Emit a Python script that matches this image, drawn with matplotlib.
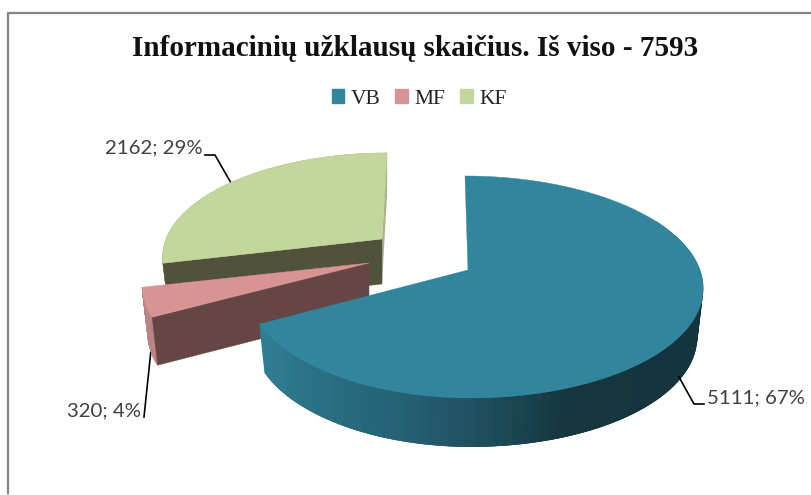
import numpy as np
from matplotlib import pyplot as plt
from matplotlib.patches import Patch

names = ["VB", "MF", "KF"]
values = [5111, 320, 2162]
percents = [67, 4, 29]
title = "Informacinių užklausų skaičius. Iš viso - 7593"

top_colors = ["#31859C", "#D79492", "#C3D69B"]
wall_colors = ["#2B6F83", "#664545", "#50533A"]
outer_colors = ["#2B6F83", "#B98483", "#A9B58A"]

# where each exploded slice sits, in image pixels
apex_x = [468, 369, 382]
apex_y = [270, 263, 239]
skew = [-3, 10, 5]
depth = [49, 48, 45]
x_scale = [1.0, 1.01, 0.98]
y_scale = [1.0, 1.0, 0.915]

RX = 232
A = 108.4
K = 0.153


def project(theta, i, bottom=False):
    s, c = np.sin(theta), np.cos(theta)
    d = 1 + K * c
    rx = np.where(s < 0, RX * 0.95, RX) * x_scale[i]
    x = s * rx / d + skew[i] * c
    y = -A * c / d
    y = np.where(c > 0, y * y_scale[i], y)
    if bottom:
        return apex_x[i] + x * 0.975, apex_y[i] + y + depth[i]
    return apex_x[i] + x, apex_y[i] + y


def shade(x):
    # side of the big slice gets darker to the right
    stops = [261, 300, 400, 500, 550, 702]
    r = np.interp(x, stops, [0x2F, 0x2A, 0x24, 0x1A, 0x16, 0x14])
    g = np.interp(x, stops, [0x7D, 0x70, 0x5E, 0x44, 0x35, 0x34])
    b = np.interp(x, stops, [0x92, 0x84, 0x70, 0x51, 0x3F, 0x3F])
    return (r / 255, g / 255, b / 255)


def draw_slice(i, a0, a1, ax):
    t = np.linspace(a0, a1, 120)
    x0, y0 = project(t, i)
    x1, y1 = project(t, i, bottom=True)
    # outer wall, the strips overlap so no seams show
    start = 30 if i == 0 else 0
    for j in range(start, len(t) - 1):
        k = min(j + 3, len(t) - 1) if i == 0 else j + 1
        col = shade((x0[j] + x0[j + 1]) / 2) if i == 0 else outer_colors[i]
        if i == 0:
            # right part of the wall is drawn from the left end backwards
            k = max(j - 2, start)
            ax.fill([x0[k], x0[j + 1], x1[j + 1], x1[k]], [y0[k], y0[j + 1], y1[j + 1], y1[k]],
                    color=col, lw=0, zorder=i_order[i])
        else:
            ax.fill([x0[j], x0[k], x1[k], x1[j]], [y0[j], y0[k], y1[k], y1[j]],
                    color=col, lw=0.3, zorder=i_order[i])
    # cut faces
    if i == 2:
        ax.fill([apex_x[i], x0[-1], x1[-1], apex_x[i]], [apex_y[i], y0[-1], y1[-1], apex_y[i] + depth[i]],
                color=outer_colors[i], lw=0, zorder=i_order[i])
    if i > 0:
        ax.fill([apex_x[i], x0[0], x1[0], apex_x[i]], [apex_y[i], y0[0], y1[0], apex_y[i] + depth[i]],
                color=wall_colors[i], lw=0.3, zorder=i_order[i])
    ax.fill(np.r_[apex_x[i], x0], np.r_[apex_y[i], y0], color=top_colors[i], lw=0.3, zorder=i_order[i])


i_order = [3, 2, 1]

fig = plt.figure(figsize=(8.11, 4.95), dpi=100)
ax = fig.add_axes([0, 0, 1, 1])
ax.set_xlim(0, 811)
ax.set_ylim(495, 0)
ax.axis("off")

# chart frame, only top and left are inside the crop
ax.plot([811, 7.5, 7.5], [13, 13, 493], color="#858585", lw=1.6)

edges = np.r_[0, np.cumsum(values)] / sum(values) * 2 * np.pi
for i in range(3):
    draw_slice(i, edges[i], edges[i + 1], ax)

ax.text(415, 49, title, ha="center", va="center", family="Liberation Serif",
        weight="bold", fontsize=21, color="#111111")

handles = [Patch(color=c, label=n) for c, n in zip(top_colors, names)]
ax.legend(handles=handles, ncol=3, loc="center", bbox_to_anchor=(419 / 811, 1 - 99 / 495), frameon=False,
          prop={"family": "Liberation Serif", "size": 15.5}, handlelength=0.58, handleheight=0.6,
          handletextpad=0.3, columnspacing=0.7, labelcolor="#222222")

label_font = dict(family="Lato", fontsize=14.7, color="#404040", va="center")
ax.text(707, 398, "%d; %d%%" % (values[0], percents[0]), ha="left", **label_font)
ax.text(141, 411, "%d; %d%%" % (values[1], percents[1]), ha="right", **label_font)
ax.text(203, 148, "%d; %d%%" % (values[2], percents[2]), ha="right", **label_font)

ax.plot([679, 694, 704], [377, 404, 404], color="black", lw=1.2, zorder=5)
ax.plot([151, 144], [350, 417], color="black", lw=1.2, zorder=0)
ax.plot([231, 215, 205], [183, 155, 155], color="black", lw=1.2, zorder=0)

fig.savefig("out.png", dpi=100)
